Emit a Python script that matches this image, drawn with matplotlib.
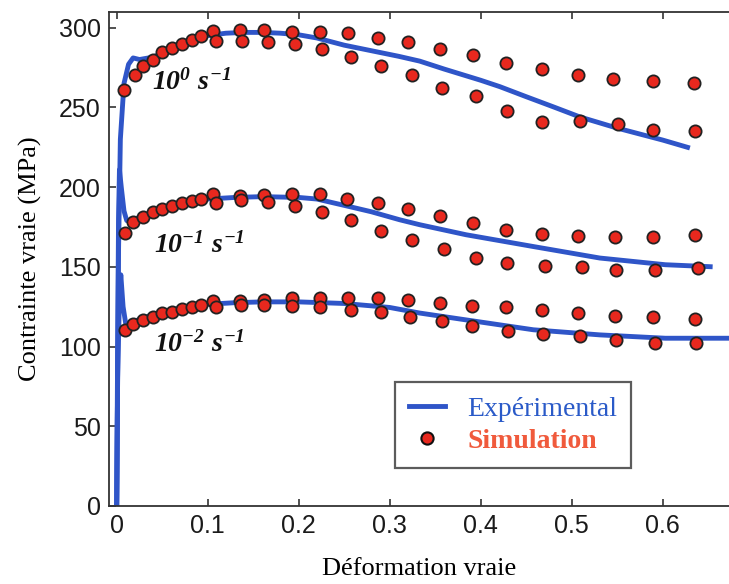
import matplotlib
matplotlib.use("Agg")
import matplotlib.pyplot as plt
from matplotlib.lines import Line2D

plt.rcParams['mathtext.fontset'] = 'custom'
plt.rcParams['mathtext.it'] = 'Liberation Serif:italic:bold'
plt.rcParams['mathtext.rm'] = 'Liberation Serif:italic:bold'
plt.rcParams['mathtext.bf'] = 'Liberation Serif:italic:bold'

# courbes experimentales
exp0_x = [0, 0.001, 0.002, 0.004, 0.008, 0.013, 0.018, 0.025, 0.03, 0.04, 0.05, 0.06, 0.07,
          0.08, 0.09, 0.1, 0.12, 0.14, 0.16, 0.18, 0.2, 0.22, 0.25, 0.28, 0.31, 0.333,
          0.36, 0.38, 0.4, 0.421, 0.45, 0.48, 0.509, 0.55, 0.6, 0.63]
exp0_y = [0, 80, 160, 230, 265, 277, 281, 280, 280.5, 281.5, 284, 287, 289.5,
          291.5, 293.5, 295, 296.5, 297, 297, 296.5, 295.5, 293.5, 289, 285.5, 282, 279,
          274, 270.5, 267, 263, 256.7, 250.3, 244, 237, 229.5, 224.5]

exp1_x = [0, 0.001, 0.002, 0.003, 0.005, 0.008, 0.011, 0.015, 0.02, 0.03, 0.04, 0.05, 0.06,
          0.07, 0.08, 0.1, 0.13, 0.16, 0.2, 0.22, 0.254, 0.28, 0.311, 0.333, 0.384, 0.458,
          0.531, 0.603, 0.655]
exp1_y = [0, 100, 180, 211, 200, 185, 179, 178.5, 180, 182, 184, 186, 188,
          189.5, 191, 192.5, 193.5, 194, 193.5, 192.5, 188, 184.5, 179.5, 176.4, 170.1, 162.7,
          155.5, 151.3, 150]

exp2_x = [0, 0.001, 0.003, 0.0045, 0.007, 0.01, 0.015, 0.02, 0.03, 0.04, 0.05, 0.06, 0.08,
          0.1, 0.13, 0.16, 0.2, 0.25, 0.3, 0.333, 0.384, 0.458, 0.531, 0.603, 0.673]
exp2_y = [0, 80, 130, 145, 125, 114, 114.5, 116, 118, 120, 121.5, 123, 125,
          126.5, 127.5, 128, 128, 127, 124.5, 121, 116.7, 110.5, 107.3, 105.2, 105.2]

# points de simulation (branche haute / branche basse)
sim0_hx = [0.008, 0.020, 0.029, 0.040, 0.050, 0.061, 0.072, 0.083, 0.093, 0.106, 0.135, 0.162,
           0.193, 0.223, 0.254, 0.287, 0.320, 0.355, 0.392, 0.428, 0.467, 0.507, 0.546, 0.589, 0.634]
sim0_hy = [261, 270.5, 276, 280, 284.5, 287.5, 290, 292.5, 295, 298, 298.8, 298.3,
           297.3, 297.3, 296.7, 293.5, 291, 286.8, 282.6, 277.9, 274.2, 270.6, 267.9, 266.4, 265.2]
sim0_bx = [0.109, 0.138, 0.166, 0.196, 0.226, 0.258, 0.291, 0.325, 0.358, 0.395, 0.429, 0.467,
           0.509, 0.551, 0.590, 0.636]
sim0_by = [291.3, 291.7, 290.9, 289.7, 286.8, 281.6, 276.2, 270.6, 262.1, 256.9, 248, 240.7,
           241.3, 239.5, 236, 235.4]

sim1_hx = [0.009, 0.018, 0.029, 0.040, 0.050, 0.061, 0.072, 0.083, 0.093, 0.106, 0.135, 0.162,
           0.193, 0.223, 0.253, 0.287, 0.320, 0.355, 0.392, 0.428, 0.467, 0.507, 0.548, 0.590, 0.636]
sim1_hy = [171.1, 178, 181.2, 184.1, 186.4, 188.3, 190, 191.4, 192.7, 195.7, 194.2, 195.3,
           195.7, 195.7, 192.5, 190, 186.2, 181.6, 177.5, 173.3, 170.5, 169.5, 168.6, 168.6, 169.7]
sim1_bx = [0.109, 0.137, 0.166, 0.196, 0.226, 0.258, 0.291, 0.325, 0.360, 0.395, 0.429, 0.471,
           0.511, 0.549, 0.592, 0.639]
sim1_by = [190, 192, 190.6, 188.3, 184.3, 179.1, 172.6, 166.5, 161.1, 155.5, 152.4, 150.7,
           149.9, 148.1, 148.1, 149.1]

sim2_hx = [0.009, 0.018, 0.029, 0.040, 0.050, 0.061, 0.072, 0.083, 0.093, 0.106, 0.135, 0.162,
           0.193, 0.223, 0.254, 0.287, 0.320, 0.355, 0.391, 0.428, 0.467, 0.507, 0.548, 0.590, 0.636]
sim2_hy = [110.5, 114.3, 116.8, 118.8, 120.9, 121.9, 123.6, 125.1, 126.1, 128.3, 128.3, 129.3,
           130.4, 130.4, 130.4, 130.4, 129.3, 127.3, 125.7, 124.5, 122.6, 120.9, 119.4, 118.4, 117.4]
sim2_bx = [0.109, 0.137, 0.162, 0.193, 0.223, 0.258, 0.290, 0.322, 0.357, 0.391, 0.430, 0.469,
           0.509, 0.549, 0.592, 0.637]
sim2_by = [125.1, 126.1, 126.1, 125.7, 124.7, 123, 121.5, 118.8, 115.7, 112.6, 109.5, 108,
           106.3, 104.2, 102.4, 102.4]

rate_labels = [r'$10^{0}\ s^{-1}$', r'$10^{-1}\ s^{-1}$', r'$10^{-2}\ s^{-1}$']
rate_pos = [(0.039, 266), (0.041, 164), (0.041, 102)]

xticks = [0, 0.1, 0.2, 0.3, 0.4, 0.5, 0.6]
yticks = [0, 50, 100, 150, 200, 250, 300]

blue = '#2f55c8'
red = '#e8281e'

fig = plt.figure(figsize=(7.29, 5.84), dpi=100)
ax = fig.add_axes([0.1495, 0.1336, 0.8505, 0.8464])

for ex, ey in [(exp0_x, exp0_y), (exp1_x, exp1_y), (exp2_x, exp2_y)]:
    ax.plot(ex, ey, color=blue, lw=3.5, solid_capstyle='butt', zorder=2)

for sx, sy in [(sim0_hx, sim0_hy), (sim0_bx, sim0_by), (sim1_hx, sim1_hy),
               (sim1_bx, sim1_by), (sim2_hx, sim2_hy), (sim2_bx, sim2_by)]:
    ax.plot(sx, sy, ls='none', marker='o', ms=8.8, mfc=red, mec='#222222', mew=1.3, zorder=3)

for lab, (tx, ty) in zip(rate_labels, rate_pos):
    ax.text(tx, ty, lab, fontsize=20, color='#111111', va='center', ha='left')

ax.set_xlim(-0.0085, 0.673)
ax.set_ylim(0, 310)
ax.set_xticks(xticks)
ax.set_xticklabels(['0', '0.1', '0.2', '0.3', '0.4', '0.5', '0.6'])
ax.set_yticks(yticks)

ax.tick_params(direction='in', length=5, width=1.2, color='#333333', top=True, right=False,
               labelsize=18, labelcolor='#1a1a1a', pad=6)
for lab in ax.get_xticklabels() + ax.get_yticklabels():
    lab.set_fontfamily('Liberation Sans')

for side in ['left', 'bottom', 'top']:
    ax.spines[side].set_color('#333333')
    ax.spines[side].set_linewidth(1.3)
ax.spines['right'].set_visible(False)

ax.set_xlabel('Déformation vraie', family='Liberation Serif', fontsize=19, labelpad=14)
ax.set_ylabel('Contrainte vraie (MPa)', family='Liberation Serif', fontsize=19, labelpad=12)

handles = [Line2D([], [], color=blue, lw=3.5),
           Line2D([], [], ls='none', marker='o', ms=8.8, mfc=red, mec='#111111', mew=1.5)]
leg = ax.legend(handles, ['Expérimental', 'Simulation'], loc='lower left',
                bbox_to_anchor=(0.461, 0.077), borderaxespad=0, frameon=True, fancybox=False,
                handlelength=1.3, handletextpad=0.8, borderpad=0.5, labelspacing=0.25,
                prop={'family': 'Liberation Serif', 'size': 20})
leg.get_frame().set_edgecolor('#333333')
leg.get_frame().set_linewidth(1.6)
leg.get_texts()[0].set_color('#2a5ac8')
leg.get_texts()[1].set_color('#f05a3c')
leg.get_texts()[1].set_fontweight('bold')

fig.savefig('out.png', dpi=100)
